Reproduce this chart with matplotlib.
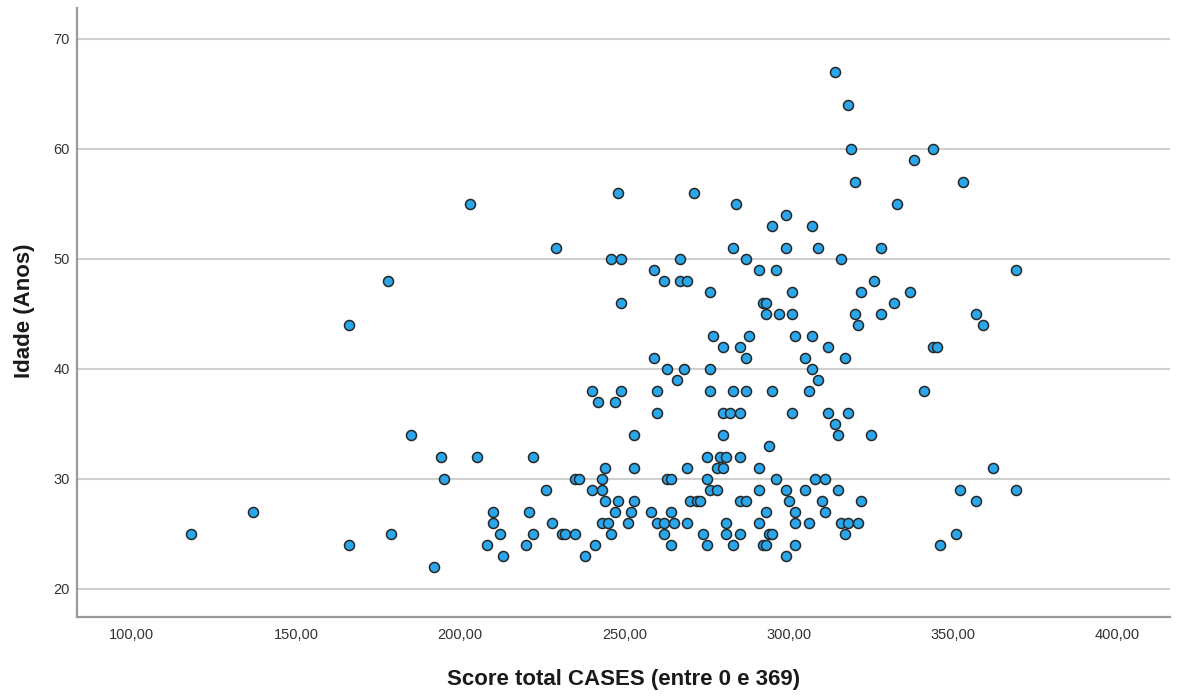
import matplotlib
matplotlib.use("Agg")
import matplotlib.pyplot as plt

plt.rcParams['font.family'] = ['Liberation Sans', 'DejaVu Sans']

score = [
    178, 166, 185, 194, 195, 137, 118, 166, 179, 192,
    203, 229, 248, 246, 240, 242, 247, 205, 222, 235, 236, 226, 244, 243, 240, 243, 244, 247,
    210, 221, 210, 212, 222, 228, 231, 232, 235, 243, 245, 246, 208, 220, 241, 213, 238,
    271, 284, 299, 295, 283, 299, 249, 267, 287, 259, 291, 296, 262, 267, 269, 276, 301, 249,
    292, 293, 293, 297, 301, 277, 288, 302, 280, 285, 287, 259, 263, 268, 276, 266, 249, 260,
    276, 283, 287, 295, 260, 280, 282, 285, 301, 253, 280, 294, 275, 279, 281, 285, 253, 269,
    278, 280, 291, 263, 264, 275, 296, 276, 278, 291, 299, 248, 253, 270, 272, 273, 285, 287,
    300, 252, 258, 264, 293, 302, 251, 260, 262, 265, 269, 281, 291, 302, 262, 274, 281, 285,
    294, 295, 264, 275, 283, 292, 293, 302, 299,
    314, 318, 319, 344, 338, 320, 353, 333, 307, 309, 328, 316, 326, 322, 337, 332, 320, 328,
    357, 321, 359, 307, 312, 344, 345,
    305, 317, 307, 309, 306, 341, 312, 318, 314, 315, 325, 362, 308, 311, 305, 315, 352, 310,
    322, 357, 311, 306, 316, 318, 321, 317, 351, 346,
    369, 369,
]
idade = [
    48, 44, 34, 32, 30, 27, 25, 24, 25, 22,
    55, 51, 56, 50, 38, 37, 37, 32, 32, 30, 30, 29, 31, 30, 29, 29, 28, 27,
    27, 27, 26, 25, 25, 26, 25, 25, 25, 26, 26, 25, 24, 24, 24, 23, 23,
    56, 55, 54, 53, 51, 51, 50, 50, 50, 49, 49, 49, 48, 48, 48, 47, 47, 46,
    46, 46, 45, 45, 45, 43, 43, 43, 42, 42, 41, 41, 40, 40, 40, 39, 38, 38,
    38, 38, 38, 38, 36, 36, 36, 36, 36, 34, 34, 33, 32, 32, 32, 32, 31, 31,
    31, 31, 31, 30, 30, 30, 30, 29, 29, 29, 29, 28, 28, 28, 28, 28, 28, 28,
    28, 27, 27, 27, 27, 27, 26, 26, 26, 26, 26, 26, 26, 26, 25, 25, 25, 25,
    25, 25, 24, 24, 24, 24, 24, 24, 23,
    67, 64, 60, 60, 59, 57, 57, 55, 53, 51, 51, 50, 48, 47, 47, 46, 45, 45,
    45, 44, 44, 43, 42, 42, 42,
    41, 41, 40, 39, 38, 38, 36, 36, 35, 34, 34, 31, 30, 30, 29, 29, 29, 28,
    28, 28, 27, 26, 26, 26, 26, 25, 25, 24,
    49, 29,
]

x_ticks = [100, 150, 200, 250, 300, 350, 400]
x_tick_labels = ["100,00", "150,00", "200,00", "250,00", "300,00", "350,00", "400,00"]
y_ticks = [20, 30, 40, 50, 60, 70]

fig = plt.figure(figsize=(11.78, 6.96), dpi=100)
ax = fig.add_axes([77/1178, 1-617/696, (1170-77)/1178, (617-8)/696])

ax.scatter(score, idade, s=52, facecolor='#2AA7EC', edgecolor='#262626',
           linewidths=1.1, zorder=3)

ax.set_xlim(83.35, 416.0)
ax.set_ylim(17.45, 72.8)

ax.set_xticks(x_ticks)
ax.set_xticklabels(x_tick_labels)
ax.set_yticks(y_ticks)

ax.yaxis.grid(True, color='#CFCFCF', linewidth=1.5, zorder=0)
ax.xaxis.grid(False)
ax.set_axisbelow(True)

for s in ['top', 'right']:
    ax.spines[s].set_visible(False)
for s in ['left', 'bottom']:
    ax.spines[s].set_color('#9A9A9A')
    ax.spines[s].set_linewidth(1.6)

ax.tick_params(axis='x', length=0, pad=8, labelsize=10.5, labelcolor='#333333')
ax.tick_params(axis='y', length=0, pad=5, labelsize=10.5, labelcolor='#333333')

ax.set_xlabel("Score total CASES (entre 0 e 369)", fontsize=16,
              fontweight='bold', color='#1A1A1A')
ax.xaxis.set_label_coords(0.5, -0.085)
ax.set_ylabel("Idade (Anos)", fontsize=16, fontweight='bold', color='#1A1A1A')
ax.yaxis.set_label_coords(-0.0384, 0.503)

fig.savefig("out.png", dpi=100)
